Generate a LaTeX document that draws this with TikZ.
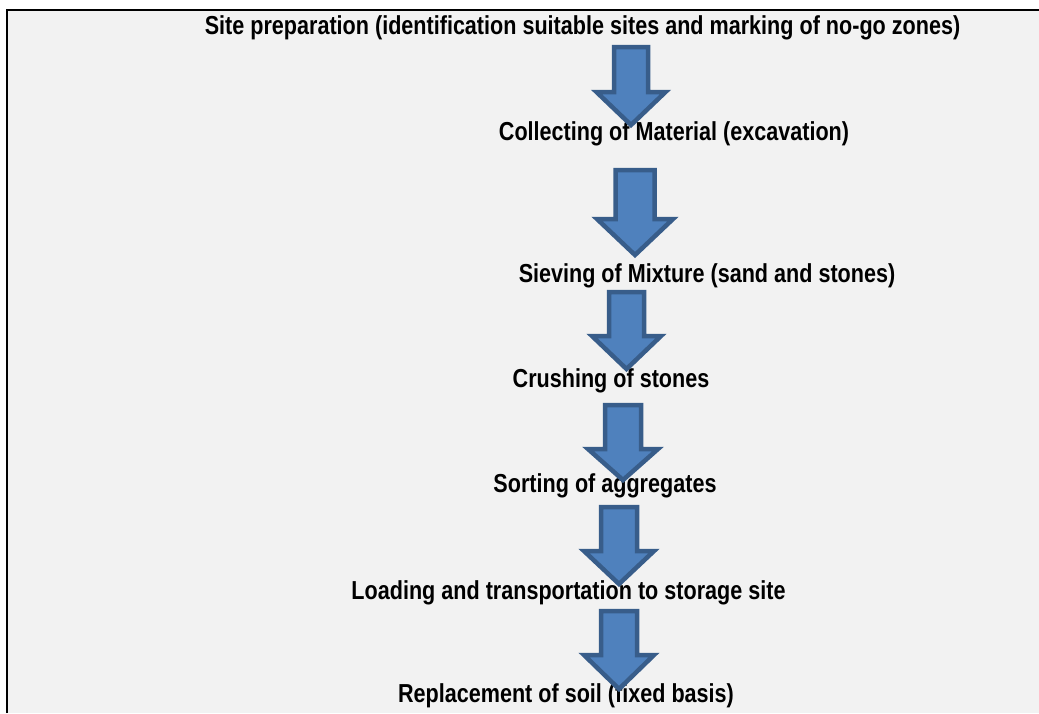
\documentclass[tikz,border=0pt]{standalone}
\usepackage{fontspec}
\setmainfont{Liberation Sans}
\newfontfamily\stagefont[FakeStretch=0.83]{Liberation Sans}
\usetikzlibrary{positioning}
\usepackage{xcolor}
\definecolor{panelgray}{HTML}{F2F2F2}
\definecolor{arrowblue}{HTML}{4F81BD}
\definecolor{arrowedge}{HTML}{385D8A}

\begin{document}
\begin{tikzpicture}[x=1pt, y=-1pt,
    stage/.style={anchor=base, inner sep=0pt, font=\stagefont\bfseries\fontsize{26}{28}\selectfont},
    flowarrow/.style={fill=arrowblue, draw=arrowedge, line width=4.5pt, line join=miter}]
    \useasboundingbox (0,0) rectangle (1039,713);
    % Panel
    \fill[panelgray] (7,10) rectangle (1039,713);
    \draw[line width=2.5pt] (7,713) -- (7,10) -- (1039,10);

    % Stages
    \node[stage] (site) at (582.5,34) {Site preparation (identification suitable sites and marking of no-go zones)};
    \node[stage] (collect) at (674,140) {Collecting of Material (excavation)};
    \node[stage] (sieve) at (707,282) {Sieving of Mixture (sand and stones)};
    \node[stage] (crush) at (611,387) {Crushing of stones};
    \node[stage] (sort) at (605,492.5) {Sorting of aggregates};
    \node[stage] (load) at (568.5,599) {Loading and transportation to storage site};
    \node[stage] (replace) at (566,702.5) {Replacement of soil (fixed basis)};

    % Block arrows
    \foreach \cx/\ty/\wy/\py/\sw/\hw in {631/47/92/125/17/34.5, 635/170/219/255/19.5/38,
        626.5/292/336/369/17.5/34.5, 623/405/449/480/18/35, 619/507/551/584/18/35,
        619/611/655/689/18/35} {
        \draw[flowarrow] (\cx-\sw,\ty) -- (\cx+\sw,\ty) -- (\cx+\sw,\wy) -- (\cx+\hw,\wy)
            -- (\cx,\py) -- (\cx-\hw,\wy) -- (\cx-\sw,\wy) -- cycle;
    }
\end{tikzpicture}
\end{document}
